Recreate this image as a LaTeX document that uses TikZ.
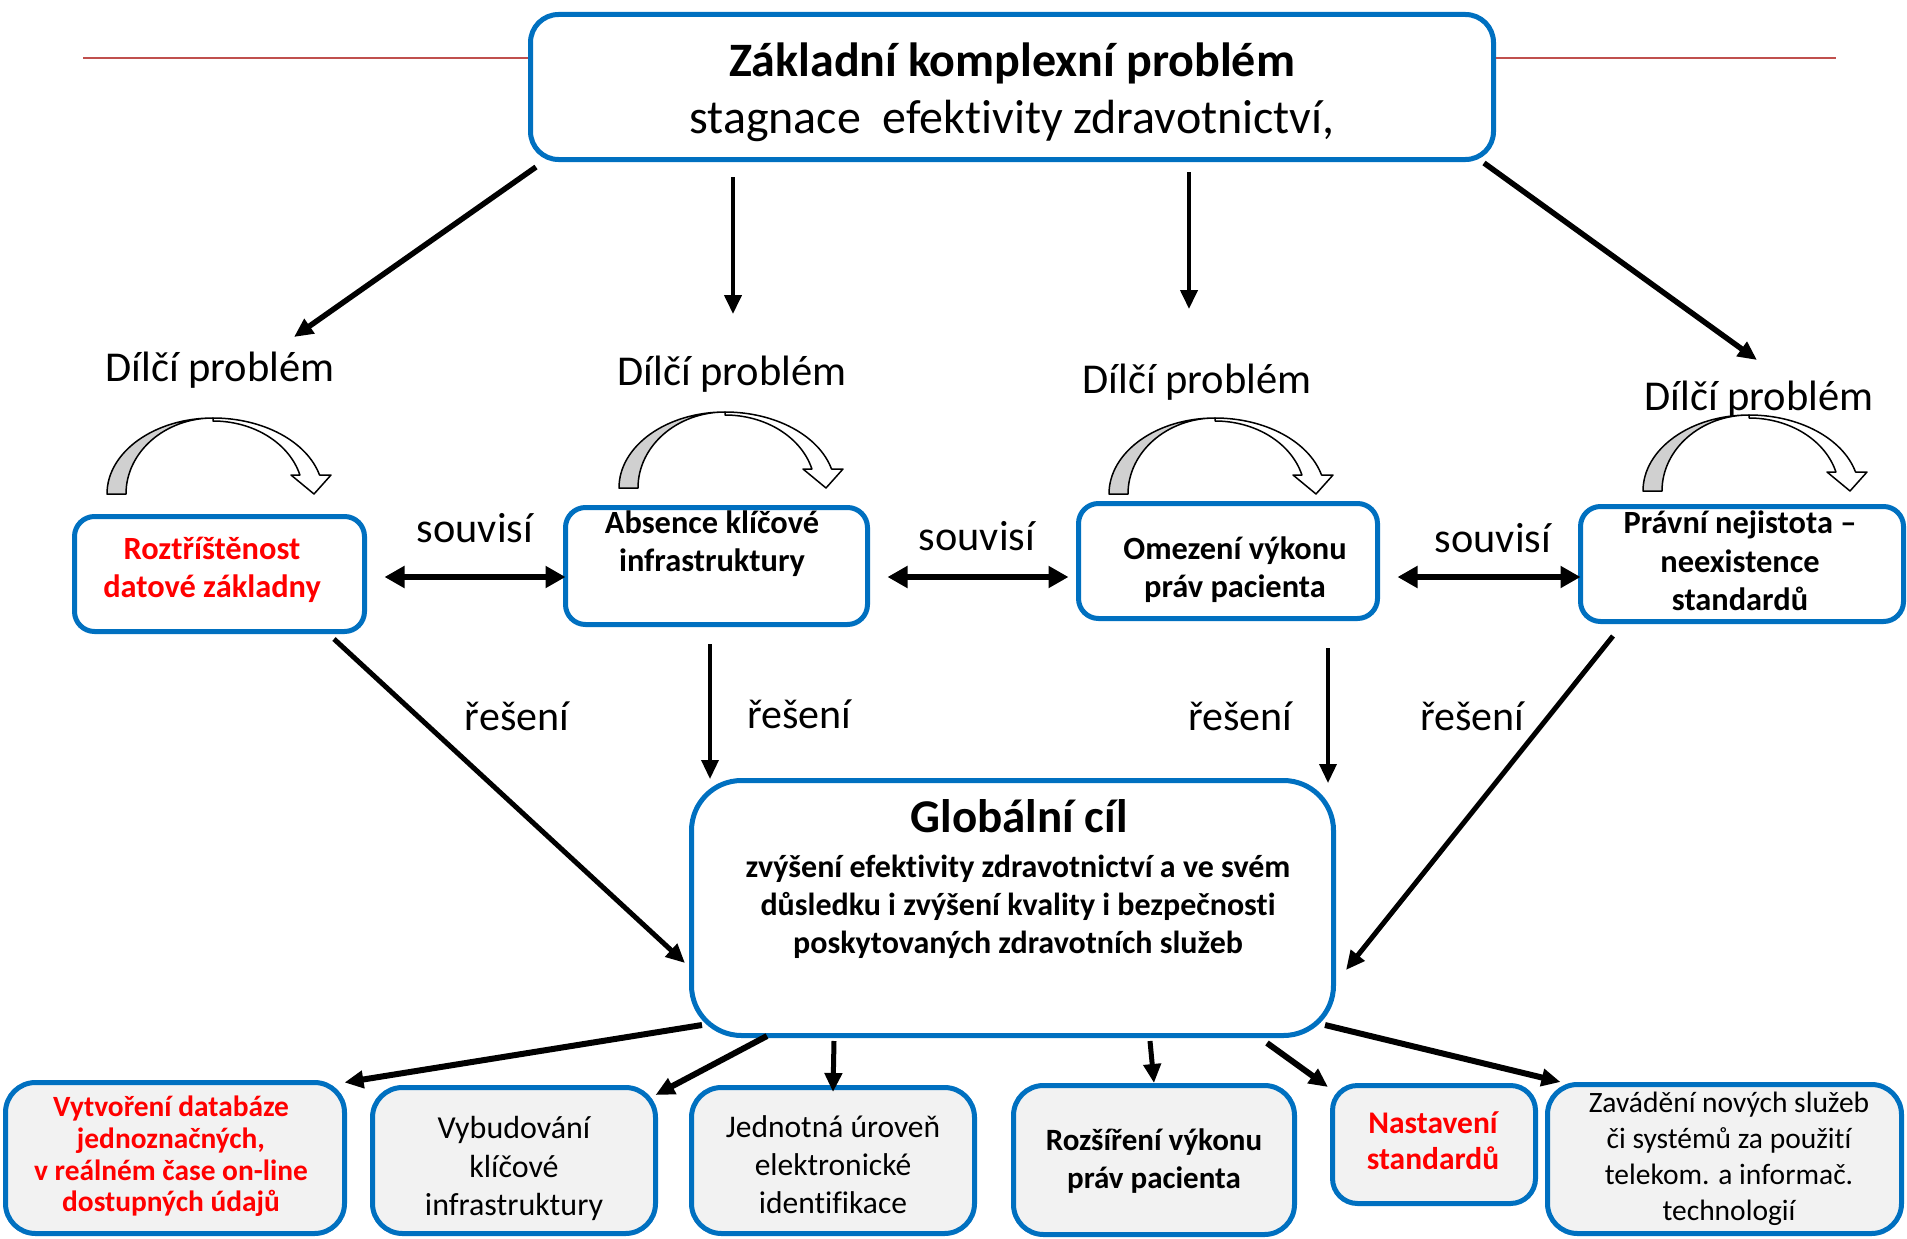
\documentclass[tikz,border=0pt]{standalone}
\usepackage{fontspec}
\setmainfont{Carlito}[Ligatures={NoCommon}]
\usetikzlibrary{arrows.meta,calc}
\definecolor{bblue}{RGB}{0,112,192}
\definecolor{rline}{RGB}{192,80,77}
\definecolor{bfill}{RGB}{242,242,242}
\definecolor{agray}{RGB}{208,208,208}
\definecolor{tred}{RGB}{255,0,0}
\newcommand\fsz[2]{\fontsize{#1}{#2}\selectfont}
\tikzset{
  pbox/.style={draw=bblue, line width=5pt, fill=white, rounded corners=#1, inner sep=0pt, outer sep=0pt},
  pbox/.default=20pt,
  sbox/.style={draw=bblue, line width=5pt, fill=bfill, rounded corners=#1, inner sep=0pt, outer sep=0pt},
  sbox/.default=30pt,
  txt/.style={align=center, inner sep=0pt},
  arr/.style={-{Triangle[length=19pt,width=17pt]}, line width=#1},
  arr/.default=5pt,
  darr/.style={{Triangle[length=20pt,width=21pt]}-{Triangle[length=20pt,width=21pt]}, line width=6.5pt},
  uwhite/.style={draw=black, line width=1.5pt, fill=white, line join=round},
  ugray/.style={draw=black, line width=1.5pt, fill=agray, line join=round},
  redline/.style={draw=rline, line width=2.2pt},
}
\newcommand\uturn[2]{%
  \begin{scope}[shift={(#1,#2)}]
    \draw[uwhite] (0,-76) arc[start angle=270,end angle=345.52,x radius=110,y radius=76]
      -- (118,-19) -- (101,0) -- (78,-19) -- (86.9,-19)
      arc[start angle=344.91,end angle=270,x radius=90,y radius=73] -- cycle;
    \draw[ugray] (-106,0) arc[start angle=180,end angle=270,x radius=106,y radius=76]
      arc[start angle=270,end angle=180,x radius=87,y radius=76] -- cycle;
  \end{scope}}
\begin{document}
\begin{tikzpicture}[x=1pt,y=-1pt]
\useasboundingbox (0,0) rectangle (1907,1239);
\clip (0,0) rectangle (1907,1239);

% top box
\node[pbox=28pt, minimum width=963pt, minimum height=145pt] (top) at (1012,87) {};
\coordinate (rlA) at (83,58);
\coordinate (rlB) at (1836,58);
\draw[redline] (rlA) -- ($(rlA -| top.west)+(-2.5,0)$);
\draw[redline] ($(top.east |- rlB)+(2.5,0)$) -- (rlB);
\node[txt, font=\fsz{48}{57}] (toptx) at (1012,92) {\textbf{Základní komplexní problém}\\stagnace~ efektivity zdravotnictví,};

% sub-problem labels
\node[txt, font=\fsz{42.5}{50}] (dp1) at (220,370) {Dílčí problém};
\node[txt, font=\fsz{42.5}{50}] (dp2) at (732,374.5) {Dílčí problém};
\node[txt, font=\fsz{42.5}{50}] (dp3) at (1197,382.5) {Dílčí problém};
\node[txt, font=\fsz{42.5}{50}] (dp4) at (1759,399) {Dílčí problém};

% curved arrows
\uturn{213}{494}
\uturn{725}{488}
\uturn{1215}{494}
\uturn{1749}{491}

% row 2 boxes
\node[pbox=20pt, minimum width=290pt, minimum height=115pt] (r1) at (219.5,574) {};
\node[pbox=20pt, minimum width=302pt, minimum height=117pt] (r2) at (716.5,566) {};
\node[pbox=20pt, minimum width=299pt, minimum height=115pt] (r3) at (1228,561) {};
\node[pbox=20pt, minimum width=323pt, minimum height=115pt] (r4) at (1742,564) {};
\node[txt, font=\fsz{32.4}{38.5}\bfseries, text=tred] (t1) at (212,570) {Roztříštěnost\\datové základny};
\node[txt, font=\fsz{32.4}{38.5}\bfseries] (t2) at (712,543.5) {Absence klíčové\\infrastruktury};
\node[txt, font=\fsz{32.4}{38.5}\bfseries] (t3) at (1235,569.5) {Omezení výkonu\\práv pacienta};
\node[txt, font=\fsz{32.4}{38.5}\bfseries] (t4) at (1740,561) {Právní nejistota –\\neexistence\\standardů};

% souvisí
\node[txt, font=\fsz{42.3}{50}] (sv1) at (475,528) {souvisí};
\node[txt, font=\fsz{42.3}{50}] (sv2) at (977,536) {souvisí};
\node[txt, font=\fsz{42.3}{50}] (sv3) at (1493,538) {souvisí};
% řešení
\node[txt, font=\fsz{42}{50}] (rs1) at (517,716) {řešení};
\node[txt, font=\fsz{42}{50}] (rs2) at (799,714) {řešení};
\node[txt, font=\fsz{42}{50}] (rs3) at (1240,716) {řešení};
\node[txt, font=\fsz{42}{50}] (rs4) at (1472,716) {řešení};

% global box
\node[pbox=50pt, minimum width=642pt, minimum height=255pt] (gc) at (1012.5,908) {};
\node[txt, font=\fsz{47}{57}\bfseries] (gt) at (1019,816.5) {Globální cíl};
\node[txt, font=\fsz{32}{38}\bfseries] (gb) at (1018,907) {zvýšení efektivity zdravotnictví a ve svém\\důsledku i zvýšení kvality i bezpečnosti\\poskytovaných zdravotních služeb};

% bottom boxes
\node[sbox=30pt, minimum width=339pt, minimum height=151pt] (b1) at (175,1158) {};
\node[sbox=30pt, minimum width=283pt, minimum height=146pt] (b2) at (514,1160.5) {};
\node[sbox=30pt, minimum width=283pt, minimum height=146pt] (b3) at (833,1160.5) {};
\node[sbox=30pt, minimum width=281pt, minimum height=149pt] (b4) at (1154,1160) {};
\node[sbox=25pt, minimum width=203pt, minimum height=118pt] (b5) at (1434,1144.5) {};
\node[sbox=30pt, minimum width=354pt, minimum height=149pt] (b6) at (1724.5,1159) {};
\node[txt, font=\fsz{29.4}{31.7}\bfseries, text=tred] (b1t) at (171,1156.5) {Vytvoření databáze\\jednoznačných,\\v reálném čase on-line\\dostupných údajů};
\node[txt, font=\fsz{32}{38.5}] (b2t) at (514,1168.5) {Vybudování\\klíčové\\infrastruktury};
\node[txt, font=\fsz{31.5}{38}] (b3t) at (833,1165) {Jednotná úroveň\\elektronické\\identifikace};
\node[txt, font=\fsz{31}{38}\bfseries] (b4t) at (1154,1161.5) {Rozšíření výkonu\\práv pacienta};
\node[txt, font=\fsz{31.5}{36}\bfseries, text=tred] (b5t) at (1433,1141) {Nastavení\\standardů};
\node[txt, font=\fsz{29.5}{36}] (b6t) at (1729,1158.5) {Zavádění nových služeb\\či systémů za použití\\telekom. a informač.\\technologií};

% arrows from the top box
\coordinate (e1) at (294,337);
\coordinate (e2) at (733,314);
\coordinate (e3) at (1189,309);
\coordinate (e4) at (1757,360);
\draw[arr=5.5pt] ($(top.south west)+(5.5,7.5)$) -- (e1);
\draw[arr=4pt] ($(top.south)+(-279,17.5)$) -- (e2);
\draw[arr=4pt] ($(top.south)+(177,12.5)$) -- (e3);
\draw[arr=5.5pt] ($(top.south east)+(-9.5,3.5)$) -- (e4);

% souvisí double arrows
\coordinate (sv) at (0,577);
\draw[darr] ($(r1.east |- sv)+(20,0)$) -- (r2.west |- sv);
\draw[darr] ($(r2.east |- sv)+(20,0)$) -- ($(r3.west |- sv)+(-10,0)$);
\draw[darr] ($(r3.east |- sv)+(20,0)$) -- (r4.west |- sv);

% řešení arrows
\draw[arr=5pt] ($(r1.south)+(114.5,7.5)$) -- ($(gc.west)+(-6.5,55)$);
\draw[arr=3.5pt] ($(r2.south)+(-6.5,19.5)$) -- ($(gc.north)+(-302.5,-1.5)$);
\draw[arr=3.5pt] ($(r3.south)+(100,29.5)$) -- ($(gc.north)+(315.5,2.5)$);
\draw[arr=5pt] ($(r4.south)+(-129,14.5)$) -- ($(gc.east)+(12.5,62)$);

% arrows to the bottom boxes
\draw[arr=6pt] ($(gc.south west)+(10.5,-10.5)$) -- (b1.north east);
\draw[arr=6pt] ($(gc.south west)+(75.5,0.5)$) -- ($(b2.north east)+(0,7.5)$);
\draw[arr=5pt] ($(gc.south)+(-178.5,5.5)$) -- ($(b3.north)+(0,4.5)$);
\draw[arr=5pt] ($(gc.south)+(137.5,5.5)$) -- ($(b4.north)+(0,-2.5)$);
\draw[arr=6pt] ($(gc.south)+(254.5,7.5)$) -- ($(b5.north west)+(-4.5,1.5)$);
\draw[arr=6pt] ($(gc.south east)+(-8.5,-10.5)$) -- ($(b6.north west)+(13,-2.5)$);
\end{tikzpicture}
\end{document}
